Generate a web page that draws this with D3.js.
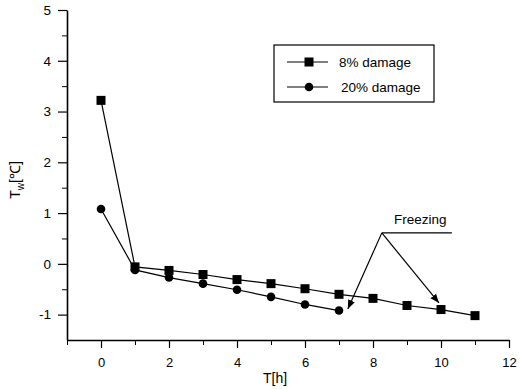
<!DOCTYPE html>
<html>
<head>
<meta charset="utf-8">
<script src="https://d3js.org/d3.v7.min.js"></script>
<style>
  body { margin: 0; background: #fff; }
  text { font-family: "Liberation Sans", Arial, sans-serif; fill: #000; }
</style>
</head>
<body>
<div id="chart"></div>
<script>
// data
let hours = [0, 1, 2, 3, 4, 5, 6, 7, 8, 9, 10, 11];
let damage8 = [3.22, -0.06, -0.13, -0.21, -0.31, -0.39, -0.49, -0.6, -0.68, -0.82, -0.9, -1.02];
let damage20 = [1.08, -0.12, -0.27, -0.39, -0.51, -0.65, -0.8, -0.92];
let xTickLabels = [0, 2, 4, 6, 8, 10, 12];
let yTickLabels = [-1, 0, 1, 2, 3, 4, 5];
let seriesNames = ["8% damage", "20% damage"];
// "Freezing" annotation (data units)
let freezeLabel = {x: 8.62, y: 0.79, text: "Freezing"};
let freezeLeader = [[8.26, 0.61], [10.32, 0.61]];
let freezeArrows = [[7.26, -0.89], [9.94, -0.77]];

let W = 520, H = 389;
let x = d3.scaleLinear().domain([-1, 12]).range([67, 509]);
let y = d3.scaleLinear().domain([-1.5, 5]).range([340, 10]);

let svg = d3.select("#chart").append("svg")
    .attr("width", W).attr("height", H);

svg.append("defs").append("marker")
    .attr("id", "arrow")
    .attr("viewBox", "0 0 10 10")
    .attr("refX", 10).attr("refY", 5)
    .attr("markerWidth", 9).attr("markerHeight", 9)
    .attr("markerUnits", "userSpaceOnUse")
    .attr("orient", "auto")
    .append("path").attr("d", "M0,1 L10,5 L0,9 Z").attr("fill", "#000");

// x axis
let xAxis = svg.append("g")
    .attr("transform", "translate(0," + y(-1.5) + ")")
    .call(d3.axisBottom(x).tickValues(xTickLabels).tickFormat(d => String(d))
          .tickSize(8).tickSizeOuter(0).tickPadding(10));
xAxis.select(".domain").attr("stroke-width", 1.6);
xAxis.selectAll(".tick line").attr("stroke-width", 1.2);
xAxis.selectAll("text").attr("font-size", 13);
svg.append("g")
    .attr("transform", "translate(0," + y(-1.5) + ")")
    .call(d3.axisBottom(x).tickValues(d3.range(-1, 12, 2)).tickSize(5).tickFormat(""))
    .call(g => g.select(".domain").remove());

// y axis
let yAxis = svg.append("g")
    .attr("transform", "translate(" + x(-1) + ",0)")
    .call(d3.axisLeft(y).tickValues(yTickLabels).tickFormat(d => String(d))
          .tickSize(9).tickSizeOuter(0).tickPadding(7));
yAxis.select(".domain").attr("stroke-width", 1.6);
yAxis.selectAll(".tick line").attr("stroke-width", 1.2);
yAxis.selectAll("text").attr("font-size", 13.5);
svg.append("g")
    .attr("transform", "translate(" + x(-1) + ",0)")
    .call(d3.axisLeft(y).tickValues([-0.5, 0.5, 1.5, 2.5, 3.5, 4.5]).tickSize(5).tickFormat(""))
    .call(g => g.select(".domain").remove());

// axis titles
svg.append("text")
    .attr("x", 275).attr("y", 383)
    .attr("text-anchor", "middle").attr("font-size", 14)
    .text("T[h]");
let yt = svg.append("text")
    .attr("transform", "translate(20,180) rotate(-90)")
    .attr("text-anchor", "middle").attr("font-size", 14);
yt.append("tspan").text("T");
yt.append("tspan").attr("dy", 4).attr("font-size", 10).text("w");
yt.append("tspan").attr("dy", -4).text("[℃]");

// lines
let line = d3.line().x((d, i) => x(hours[i])).y(d => y(d));
svg.append("path").datum(damage8)
    .attr("fill", "none").attr("stroke", "#000").attr("stroke-width", 1.2)
    .attr("d", line);
svg.append("path").datum(damage20)
    .attr("fill", "none").attr("stroke", "#000").attr("stroke-width", 1.2)
    .attr("d", line);

// markers
svg.selectAll(".sq").data(damage8).enter().append("rect")
    .attr("x", (d, i) => x(hours[i]) - 4.5)
    .attr("y", d => y(d) - 4.5)
    .attr("width", 9).attr("height", 9)
    .attr("fill", "#000");
svg.selectAll(".ci").data(damage20).enter().append("circle")
    .attr("cx", (d, i) => x(hours[i]))
    .attr("cy", d => y(d))
    .attr("r", 4.3)
    .attr("fill", "#000");

// legend
let lg = svg.append("g");
lg.append("rect")
    .attr("x", 274).attr("y", 45).attr("width", 160).attr("height", 57)
    .attr("fill", "none").attr("stroke", "#000").attr("stroke-width", 1.2);
seriesNames.forEach((name, i) => {
    let ly = 62 + i * 25;
    lg.append("line")
        .attr("x1", 287).attr("x2", 328).attr("y1", ly).attr("y2", ly)
        .attr("stroke", "#000").attr("stroke-width", 1.2);
    if (i == 0) {
        lg.append("rect").attr("x", 304.5).attr("y", ly - 4.5)
            .attr("width", 9).attr("height", 9).attr("fill", "#000");
    } else {
        lg.append("circle").attr("cx", 309).attr("cy", ly).attr("r", 4.3).attr("fill", "#000");
    }
    lg.append("text")
        .attr("x", 339 + i * 2).attr("y", ly + 5)
        .attr("font-size", 13.5)
        .text(name);
});

// freezing annotation
svg.append("text")
    .attr("x", x(freezeLabel.x)).attr("y", y(freezeLabel.y))
    .attr("font-size", 13.5)
    .text(freezeLabel.text);
svg.append("line")
    .attr("x1", x(freezeLeader[0][0])).attr("y1", y(freezeLeader[0][1]))
    .attr("x2", x(freezeLeader[1][0])).attr("y2", y(freezeLeader[1][1]))
    .attr("stroke", "#000").attr("stroke-width", 1.2);
freezeArrows.forEach(a => {
    svg.append("line")
        .attr("x1", x(freezeLeader[0][0])).attr("y1", y(freezeLeader[0][1]))
        .attr("x2", x(a[0])).attr("y2", y(a[1]))
        .attr("stroke", "#000").attr("stroke-width", 1.2)
        .attr("marker-end", "url(#arrow)");
});
</script>
</body>
</html>
